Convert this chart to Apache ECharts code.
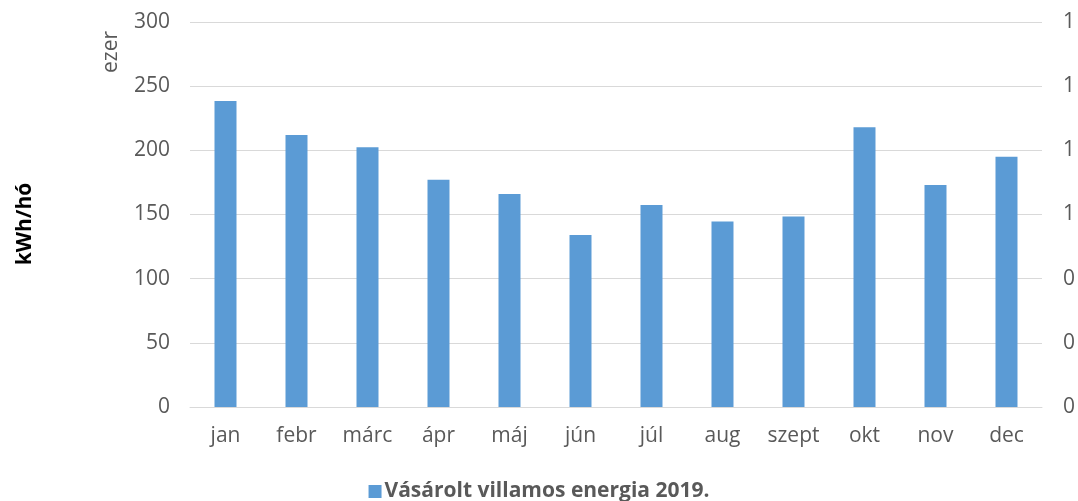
<!DOCTYPE html>
<html lang="hu">
<head>
    <meta charset="UTF-8">
    <title>Vásárolt villamos energia 2019.</title>
    <script src="https://cdn.jsdelivr.net/npm/echarts@6/dist/echarts.min.js"></script>
</head>
<style>
    *{
        margin: 0;
        padding: 0;
    }
    html , body{
        overflow: hidden;
        height: 100%;
        width: 100%;
        background: #fff;
    }
    .contain{
        width: 1078px;
        height: 501px;
    }
</style>
<body>
<div class="contain"></div>
<script>
    // hónapok és havi fogyasztás (ezer kWh)
    let months = ['jan', 'febr', 'márc', 'ápr', 'máj', 'jún', 'júl', 'aug', 'szept', 'okt', 'nov', 'dec'];
    let energy2019 = [238.5, 212, 202.5, 177, 166, 134, 157.5, 144.5, 148.5, 218, 173, 195];
    let seriesName = 'Vásárolt villamos energia 2019.';

    let font = '"Open Sans", "Noto Sans", sans-serif';
    let textColor = '#595959';
    let fs = 21;

    let chart = echarts.init(document.querySelector('.contain'));

    let option = {
        animation: false,
        textStyle: {fontFamily: font},
        grid: {
            left: 190,
            right: 36,
            top: 22,
            bottom: 94
        },
        legend: {
            top: 476,
            left: 'center',
            icon: 'rect',
            itemWidth: 13,
            itemHeight: 13,
            itemGap: 4,
            textStyle: {
                color: textColor,
                fontSize: fs,
                fontWeight: 'bold',
                fontFamily: font,
                padding: [0, 0, 0, -2]
            },
            data: [seriesName]
        },
        graphic: [
            {
                type: 'text',
                x: 25,
                y: 224,
                rotation: Math.PI / 2,
                style: {
                    text: 'kWh/hó',
                    fill: '#000',
                    font: 'bold ' + fs + 'px ' + font,
                    align: 'center',
                    verticalAlign: 'middle'
                }
            },
            {
                type: 'text',
                x: 111,
                y: 52,
                rotation: Math.PI / 2,
                style: {
                    text: 'ezer',
                    fill: textColor,
                    font: fs + 'px ' + font,
                    align: 'center',
                    verticalAlign: 'middle'
                }
            }
        ],
        xAxis: {
            type: 'category',
            data: months,
            axisTick: {show: false},
            axisLine: {lineStyle: {color: '#D9D9D9'}},
            axisLabel: {
                color: textColor,
                fontSize: fs,
                margin: 19,
                fontFamily: font
            }
        },
        yAxis: [
            {
                type: 'value',
                min: 0,
                max: 300,
                interval: 50,
                axisLabel: {
                    color: textColor,
                    fontSize: fs,
                    margin: 20,
                    fontFamily: font
                },
                splitLine: {lineStyle: {color: '#D9D9D9'}}
            },
            {
                type: 'value',
                min: 0,
                max: 1.2,
                interval: 0.2,
                position: 'right',
                axisLine: {show: false},
                axisTick: {show: false},
                splitLine: {show: false},
                axisLabel: {
                    color: textColor,
                    fontSize: fs,
                    margin: 21,
                    fontFamily: font,
                    formatter: function (v) {
                        return Math.round(v).toString();
                    }
                }
            }
        ],
        series: [
            {
                name: seriesName,
                type: 'bar',
                data: energy2019,
                barWidth: 22,
                itemStyle: {color: '#5B9BD5'}
            }
        ]
    };

    chart.setOption(option);
</script>
</body>
</html>
